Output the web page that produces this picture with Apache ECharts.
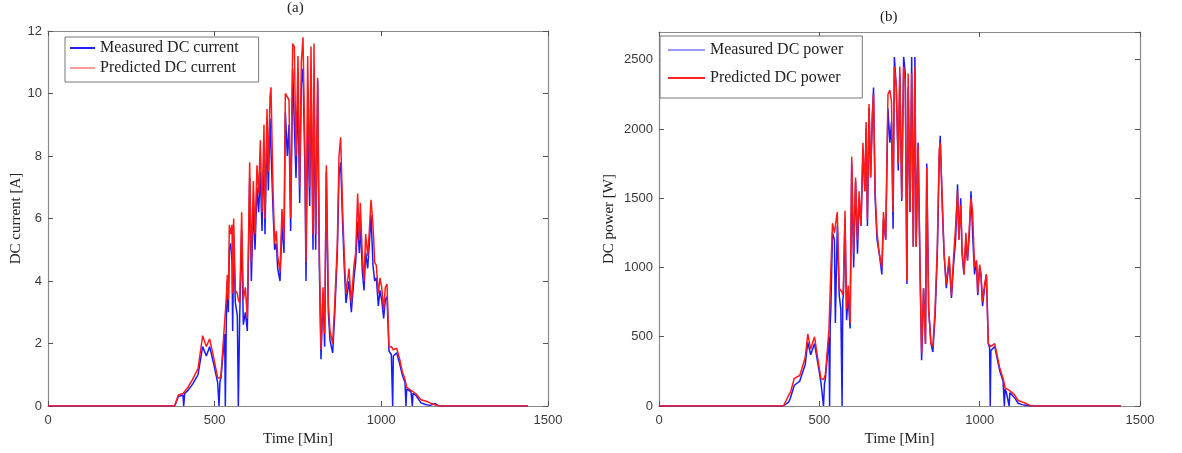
<!DOCTYPE html>
<html>
<head>
<meta charset="utf-8">
<script src="https://cdn.jsdelivr.net/npm/echarts@6/dist/echarts.min.js"></script>
<style>html,body{margin:0;padding:0;background:#fff;}#chart{width:1182px;height:453px;}</style>
</head>
<body>
<div id="chart"></div>
<script>
// ---- Data: [time (min), value] ----
const xTicks = [0, 500, 1000, 1500];
const measuredCurrent = [
[0,0],[380,0],[391,0.3],[405,0.35],[407,0],[410,0.4],[420,0.5],[434,0.7],[450,1.0],[464,1.9],[475,1.6],[485,1.9],[498,1.3],[509,0.75],[513,0],[516,0.8],[519,0.9],[530,2.3],[532,0],[535,2.8],[538,4.0],[541,3.0],[544,5.0],[548,5.2],[552,4.6],[554,2.4],[557,5.4],[562,3.3],[568,2.9],[571,0],[575,2.8],[581,5.6],[586,2.6],[592,3.0],[598,2.4],[605,7.3],[610,4.0],[616,6.4],[621,5.0],[627,7.0],[632,6.2],[637,7.5],[642,5.6],[648,8.3],[651,5.5],[657,8.8],[661,6.9],[666,9.2],[669,8.2],[675,6.3],[680,5.0],[685,5.2],[689,4.4],[696,4.0],[702,5.8],[708,4.9],[712,9.4],[718,8.0],[723,9.0],[728,5.6],[734,10.8],[739,9.0],[744,7.3],[750,10.0],[755,6.5],[760,10.3],[765,10.8],[771,7.4],[774,4.0],[779,9.3],[785,6.4],[789,10.5],[795,5.0],[798,10.3],[803,5.0],[809,10.4],[814,4.5],[819,1.5],[825,3.6],[830,1.9],[835,7.5],[841,3.0],[846,2.1],[854,1.7],[860,2.9],[868,4.9],[873,7.4],[878,7.8],[884,5.8],[889,4.4],[894,3.3],[903,4.0],[910,3.0],[918,4.1],[923,4.6],[929,5.9],[934,4.9],[937,5.9],[943,4.3],[948,3.7],[953,4.9],[959,4.4],[964,5.2],[969,6.1],[975,4.5],[980,4.0],[985,4.1],[991,3.2],[996,3.7],[1001,3.4],[1007,2.8],[1012,3.4],[1017,3.5],[1023,1.75],[1030,1.65],[1034,0],[1036,1.6],[1039,1.65],[1046,1.7],[1055,1.35],[1063,1.0],[1071,0.75],[1074,0],[1076,0.55],[1078,0.5],[1089,0.45],[1093,0],[1095,0.4],[1103,0.35],[1119,0.1],[1135,0.04],[1146,0.02],[1162,0.08],[1173,0],[1440,0]
];
const predictedCurrent = [
[0,0],[380,0],[391,0.35],[405,0.4],[410,0.45],[420,0.6],[434,0.85],[450,1.2],[464,2.25],[475,1.9],[485,2.15],[498,1.5],[509,0.9],[516,0.9],[519,1.0],[530,2.7],[532,3.0],[535,3.5],[538,4.2],[541,3.4],[544,5.8],[548,5.5],[552,5.8],[554,3.6],[557,6.0],[562,3.7],[568,3.6],[571,3.4],[575,3.3],[581,6.2],[586,3.4],[592,3.8],[598,2.8],[605,7.8],[610,4.6],[616,7.2],[621,5.5],[627,7.7],[632,6.8],[637,8.5],[642,6.2],[648,9.0],[651,6.0],[657,9.5],[661,7.5],[666,9.9],[669,10.2],[675,6.9],[680,5.2],[685,5.6],[689,4.8],[696,4.3],[702,6.3],[708,5.3],[712,10.0],[718,10.0],[723,9.8],[728,6.0],[734,11.6],[739,11.5],[744,8.0],[750,11.2],[755,7.0],[760,11.0],[765,11.8],[771,8.0],[774,4.6],[779,11.2],[785,7.0],[789,11.5],[795,5.5],[798,11.6],[803,5.5],[809,10.5],[814,5.0],[819,1.8],[825,3.8],[830,2.3],[835,7.7],[841,3.3],[846,2.4],[854,2.0],[860,3.2],[868,5.2],[873,8.0],[878,8.6],[884,6.2],[889,4.8],[894,3.6],[903,4.4],[910,3.3],[918,4.5],[923,4.9],[929,6.8],[934,5.3],[937,6.5],[943,4.8],[948,4.0],[953,5.5],[959,4.8],[964,5.6],[969,6.6],[975,5.8],[980,4.6],[985,4.5],[991,3.6],[996,4.1],[1001,3.8],[1007,3.1],[1012,3.8],[1017,3.9],[1023,1.9],[1030,1.9],[1036,1.8],[1039,1.82],[1046,1.85],[1055,1.5],[1063,1.1],[1071,0.85],[1076,0.6],[1078,0.55],[1089,0.5],[1095,0.45],[1103,0.4],[1119,0.2],[1135,0.15],[1146,0.1],[1162,0.03],[1173,0],[1440,0]
];
const measuredPower = [
[0,0],[388,0],[405,30],[410,60],[422,150],[439,180],[456,300],[464,460],[473,370],[485,450],[496,300],[505,170],[513,0],[516,160],[519,200],[530,500],[532,0],[534,600],[536,700],[541,1250],[547,1200],[550,600],[556,1300],[562,800],[567,700],[571,0],[573,760],[575,800],[580,1350],[585,620],[590,800],[596,560],[601,1750],[607,1000],[613,1620],[619,1100],[624,1500],[630,1300],[636,1850],[642,1550],[646,2000],[650,1300],[655,2150],[660,1650],[665,2050],[669,2300],[674,1500],[680,1200],[687,1100],[695,950],[700,1350],[707,1200],[714,2150],[720,1900],[725,2050],[730,1280],[734,2520],[740,2300],[746,1700],[751,2400],[757,1480],[763,2520],[768,2400],[773,880],[777,2300],[783,1400],[788,2520],[793,1150],[798,2520],[802,1150],[808,1900],[814,1000],[819,330],[825,850],[831,450],[835,1750],[841,700],[848,450],[854,390],[861,650],[868,1100],[874,1800],[877,1950],[884,1400],[889,1100],[896,850],[905,1050],[912,780],[918,1000],[925,1200],[931,1600],[935,1200],[941,1500],[945,1100],[951,950],[957,1200],[962,1050],[968,1250],[973,1550],[978,1250],[984,950],[990,1050],[994,800],[1000,1000],[1004,950],[1009,720],[1015,850],[1021,950],[1027,450],[1031,420],[1033,0],[1035,400],[1047,430],[1054,350],[1063,250],[1073,180],[1077,0],[1079,120],[1083,100],[1092,0],[1094,95],[1098,90],[1109,60],[1120,20],[1132,10],[1143,5],[1160,0],[1440,0]
];
const predictedPower = [
[0,0],[388,0],[405,80],[410,100],[422,200],[439,220],[456,350],[464,520],[473,410],[485,500],[496,330],[505,200],[513,190],[516,200],[519,230],[530,550],[532,700],[534,850],[536,990],[541,1320],[547,1250],[550,1300],[556,1400],[562,850],[567,850],[571,820],[573,800],[575,850],[580,1410],[585,700],[590,870],[596,600],[601,1800],[607,1100],[613,1650],[619,1200],[624,1550],[630,1300],[636,1900],[642,1550],[646,2050],[650,1350],[655,2180],[660,1650],[665,2100],[669,2250],[674,1550],[680,1250],[687,1100],[695,1000],[700,1400],[707,1200],[714,2250],[720,2280],[725,2200],[730,1400],[734,2450],[740,2300],[746,1750],[751,2450],[757,1500],[763,2450],[768,2350],[773,900],[777,2400],[783,1400],[788,2400],[793,1150],[798,2450],[802,1150],[808,1880],[814,1000],[819,380],[825,850],[831,450],[835,1720],[841,700],[848,450],[854,430],[861,700],[868,1150],[874,1850],[877,1900],[884,1450],[889,1100],[896,880],[905,1080],[912,800],[918,1050],[925,1300],[931,1550],[935,1200],[941,1450],[945,1150],[951,950],[957,1250],[962,1050],[968,1300],[973,1500],[978,1400],[984,1000],[990,1050],[994,820],[1000,1020],[1004,950],[1009,750],[1015,870],[1021,950],[1027,450],[1031,440],[1035,430],[1047,450],[1054,370],[1063,270],[1073,200],[1077,160],[1079,130],[1083,120],[1092,115],[1098,110],[1109,80],[1120,40],[1132,30],[1143,20],[1160,0],[1440,0]
];

// ---- Chart ----
const chart = echarts.init(document.getElementById('chart'), null, {renderer: 'canvas'});
const AX = '#8a8a8a';
const serif = 'Liberation Serif';
const sans = 'Liberation Sans';
const plain = v => String(v);
function xAx(grid, pos, name) {
  return {
    type: 'value', gridIndex: grid, position: pos, min: 0, max: 1500, interval: 500,
    name: name, nameLocation: 'middle', nameGap: 23,
    nameTextStyle: {fontFamily: serif, fontSize: 15, color: '#222'},
    axisLine: {show: true, onZero: false, lineStyle: {color: AX, width: 1.2}},
    axisTick: {show: true, inside: true, length: 5, lineStyle: {color: '#555'}},
    axisLabel: {show: pos === 'bottom', fontFamily: sans, fontSize: 13, color: '#3a3a3a', margin: 8, formatter: plain},
    splitLine: {show: false}
  };
}
function yAx(grid, pos, max, interval, name, gap, showMax) {
  return {
    type: 'value', gridIndex: grid, position: pos, min: 0, max: max, interval: interval,
    name: name, nameLocation: 'middle', nameGap: gap,
    nameTextStyle: {fontFamily: serif, fontSize: 15, color: '#222'},
    axisLine: {show: true, onZero: false, lineStyle: {color: AX, width: 1.2}},
    axisTick: {show: true, inside: true, length: 5, lineStyle: {color: '#555'}},
    axisLabel: {show: pos === 'left', fontFamily: sans, fontSize: 13, color: '#3a3a3a', margin: 6, showMaxLabel: showMax, formatter: plain},
    splitLine: {show: false}
  };
}
function line(name, data, xi, yi, color, z) {
  return {
    name: name, type: 'line', data: data, xAxisIndex: xi, yAxisIndex: yi,
    showSymbol: false, symbol: 'none', z: z,
    lineStyle: {color: color, width: 1.5}, itemStyle: {color: color}
  };
}
const option = {
  animation: false,
  backgroundColor: '#fff',
  grid: [
    {left: 48, top: 31, width: 500, height: 375},
    {left: 659, top: 32, width: 481, height: 374}
  ],
  xAxis: [
    xAx(0, 'bottom', 'Time [Min]'), xAx(0, 'top', ''),
    xAx(1, 'bottom', 'Time [Min]'), xAx(1, 'top', '')
  ],
  yAxis: [
    yAx(0, 'left', 12, 2, 'DC current [A]', 24, true), yAx(0, 'right', 12, 2, '', 0, true),
    yAx(1, 'left', 2700, 500, 'DC power [W]', 42, false), yAx(1, 'right', 2700, 500, '', 0, false)
  ],
  legend: [
    {
      left: 65, top: 37, orient: 'vertical', icon: 'rect', itemWidth: 25, itemHeight: 2, itemGap: 4,
      padding: [3, 20, 6, 5], borderColor: '#777', borderWidth: 1, backgroundColor: '#fff',
      textStyle: {fontFamily: serif, fontSize: 16, color: '#222', lineHeight: 16},
      data: [
        {name: 'Measured DC current', itemStyle: {color: '#2020ff'}},
        {name: 'Predicted DC current', itemStyle: {color: '#ff9a9a'}}
      ]
    },
    {
      left: 660, top: 36, orient: 'vertical', icon: 'rect', itemWidth: 37, itemHeight: 2, itemGap: 10,
      padding: [5, 19, 11, 8], borderColor: '#777', borderWidth: 1, backgroundColor: '#fff',
      textStyle: {fontFamily: serif, fontSize: 16, color: '#222', lineHeight: 18},
      data: [
        {name: 'Measured DC power', itemStyle: {color: '#9a9aff'}},
        {name: 'Predicted DC power', itemStyle: {color: '#ff2020'}}
      ]
    }
  ],
  graphic: [
    {type: 'text', left: 287, top: 1, style: {text: '(a)', font: '15px "Liberation Serif"', fill: '#222'}},
    {type: 'text', left: 880, top: 10, style: {text: '(b)', font: '15px "Liberation Serif"', fill: '#222'}}
  ],
  series: [
    line('Measured DC current', measuredCurrent, 0, 0, '#1a1aff', 2),
    line('Predicted DC current', predictedCurrent, 0, 0, '#ff1a1a', 3),
    line('Measured DC power', measuredPower, 2, 2, '#1a1aff', 2),
    line('Predicted DC power', predictedPower, 2, 2, '#ff1a1a', 3)
  ]
};
chart.setOption(option);
</script>
</body>
</html>
